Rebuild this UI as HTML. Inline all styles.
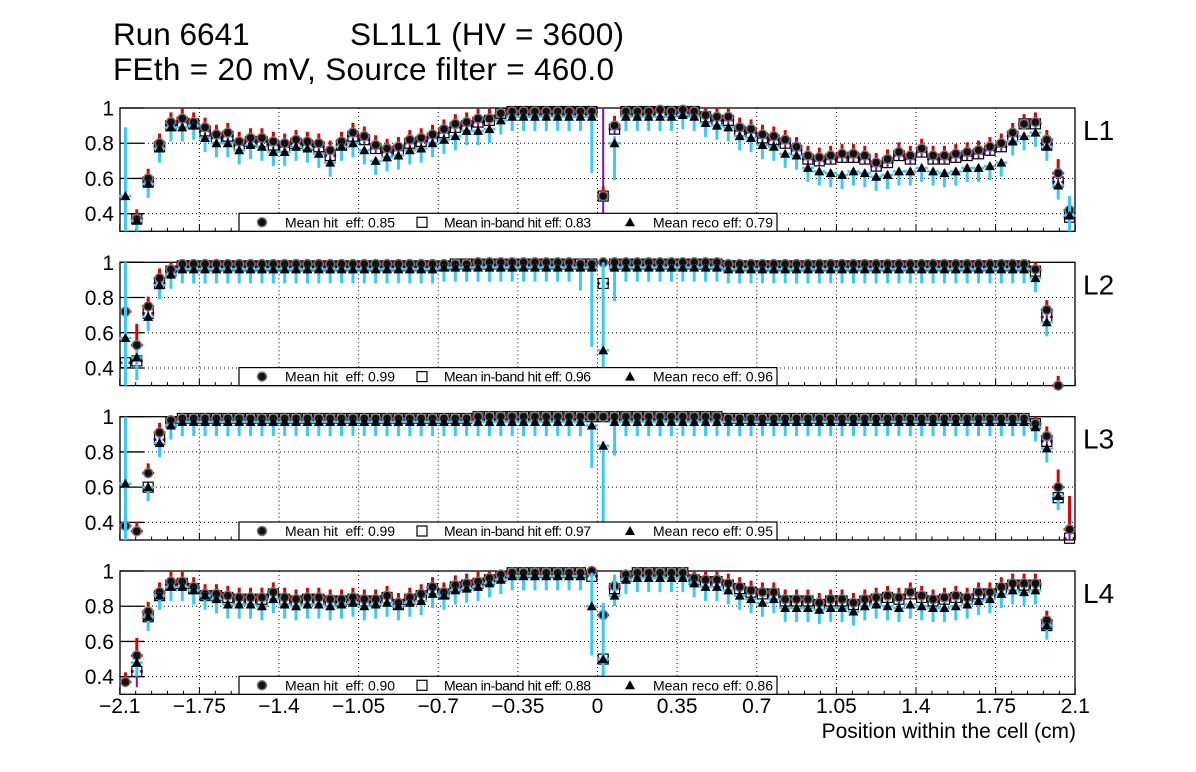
<!DOCTYPE html>
<html><head><meta charset="utf-8"><style>
html,body{margin:0;padding:0;background:#fff;}
svg{display:block;font-family:"Liberation Sans",Arial,sans-serif;}
text{white-space:pre;}
</style></head><body>
<svg id="chart" width="1196" height="772" viewBox="0 0 1196 772">
<text x="113" y="45" font-size="31.5">Run 6641</text>
<text x="350" y="45" font-size="31.5" textLength="274">SL1L1 (HV = 3600)</text>
<text x="113" y="80" font-size="31.5" textLength="501">FEth = 20 mV, Source filter = 460.0</text>
<g id="plots"></g>
<text x="1076" y="738" font-size="21" text-anchor="end">Position within the cell (cm)</text>
</svg>
<script>
const xTicks = [-2.1,-1.75,-1.4,-1.05,-0.7,-0.35,0,0.35,0.7,1.05,1.4,1.75,2.1];
const xTickLabels = ["\u22122.1","\u22121.75","\u22121.4","\u22121.05","\u22120.7","\u22120.35","0","0.35","0.7","1.05","1.4","1.75","2.1"];
const yTicks = [0.4,0.6,0.8,1];
const yTickLabels = ["0.4","0.6","0.8","1"];
const layerNames = ["L1","L2","L3","L4"];
const meanHit = ["0.85","0.99","0.99","0.90"];
const meanInband = ["0.83","0.96","0.97","0.88"];
const meanReco = ["0.79","0.96","0.95","0.86"];
const binStart = -2.075, binWidth = 0.05, nBins = 84;

const hitL1 = [null,0.37,0.60,0.80,0.92,0.94,0.92,0.89,0.85,0.86,0.81,0.83,0.83,0.81,0.80,0.82,0.81,0.80,0.76,0.81,0.86,0.84,0.79,0.77,0.78,0.82,0.83,0.85,0.88,0.91,0.92,0.94,0.94,0.97,0.98,0.98,0.98,0.98,0.98,0.98,0.98,0.98,0.50,0.90,0.98,0.98,0.98,0.99,0.98,0.99,0.98,0.96,0.95,0.95,0.89,0.88,0.85,0.84,0.82,0.78,0.73,0.72,0.73,0.74,0.74,0.73,0.69,0.71,0.75,0.73,0.77,0.73,0.73,0.74,0.75,0.76,0.78,0.80,0.86,0.91,0.92,0.82,0.63,0.42];
const inbL1 = [null,0.37,0.58,0.78,0.90,0.92,0.91,0.87,0.83,0.84,0.79,0.81,0.81,0.79,0.78,0.80,0.79,0.78,0.73,0.79,0.84,0.82,0.77,0.75,0.76,0.80,0.81,0.83,0.86,0.89,0.90,0.92,0.93,0.97,0.98,0.98,0.98,0.98,0.98,0.98,0.98,0.98,0.50,0.88,0.98,0.98,0.98,0.98,0.98,0.98,0.98,0.95,0.93,0.93,0.87,0.86,0.83,0.82,0.80,0.76,0.71,0.70,0.71,0.72,0.72,0.71,0.67,0.69,0.73,0.71,0.75,0.71,0.71,0.72,0.73,0.74,0.76,0.78,0.84,0.91,0.91,0.79,0.58,0.38];
const recoL1 = [0.50,0.36,0.57,0.77,0.89,0.89,0.90,0.83,0.80,0.80,0.76,0.79,0.78,0.75,0.75,0.78,0.77,0.74,0.69,0.78,0.80,0.76,0.70,0.72,0.73,0.76,0.77,0.80,0.82,0.84,0.87,0.87,0.88,0.93,0.95,0.95,0.95,0.95,0.95,0.95,0.95,0.95,null,0.80,0.95,0.95,0.95,0.95,0.95,0.96,0.95,0.915,0.90,0.89,0.84,0.83,0.79,0.78,0.74,0.73,0.66,0.64,0.63,0.62,0.64,0.63,0.61,0.62,0.64,0.64,0.66,0.64,0.63,0.64,0.66,0.66,0.67,0.69,0.81,0.84,0.86,0.78,0.56,0.39];

const hitL2 = [0.72,0.53,0.75,0.91,0.96,0.99,0.99,0.99,0.99,0.99,0.99,0.99,0.99,0.99,0.99,0.99,0.99,0.99,0.99,0.99,0.99,0.99,0.99,0.99,0.99,0.99,0.99,0.99,0.99,0.99,0.99,1.0,1.0,1.0,1.0,1.0,1.0,1.0,1.0,1.0,0.99,0.99,1.0,1.0,1.0,1.0,1.0,1.0,1.0,1.0,1.0,1.0,1.0,0.99,0.99,0.99,0.99,0.99,0.99,0.99,0.99,0.99,0.99,0.99,0.99,0.99,0.99,0.99,0.99,0.99,0.99,0.99,0.99,0.99,0.99,0.99,0.99,0.99,0.99,0.99,0.96,0.73,0.30,null];
const inbL2 = [0.43,0.44,0.71,0.88,0.95,0.98,0.98,0.98,0.98,0.98,0.98,0.98,0.98,0.98,0.98,0.98,0.98,0.98,0.98,0.98,0.98,0.98,0.98,0.98,0.98,0.98,0.98,0.98,0.98,0.99,0.99,0.99,0.99,0.99,0.99,0.99,0.99,0.99,0.99,0.99,0.99,0.99,0.88,0.99,0.99,0.99,0.99,0.99,0.99,0.99,0.99,0.99,0.99,0.98,0.98,0.98,0.98,0.98,0.98,0.98,0.98,0.98,0.98,0.98,0.98,0.98,0.98,0.98,0.98,0.98,0.98,0.98,0.98,0.98,0.98,0.98,0.98,0.98,0.98,0.98,0.95,0.69,null,null];
const recoL2 = [0.57,0.46,0.69,0.87,0.93,0.96,0.96,0.96,0.96,0.96,0.96,0.96,0.96,0.96,0.96,0.96,0.96,0.96,0.96,0.96,0.96,0.96,0.96,0.96,0.96,0.96,0.96,0.96,0.97,0.97,0.97,0.97,0.97,0.97,0.97,0.97,0.97,0.97,0.97,0.97,0.97,0.97,0.50,0.97,0.97,0.97,0.97,0.97,0.97,0.97,0.97,0.97,0.97,0.96,0.96,0.96,0.96,0.96,0.96,0.96,0.96,0.96,0.96,0.96,0.96,0.96,0.96,0.96,0.96,0.96,0.96,0.96,0.96,0.96,0.96,0.96,0.96,0.96,0.96,0.96,0.91,0.66,null,null];

const hitL3 = [0.38,0.35,0.68,0.91,0.98,0.99,0.99,0.99,0.99,0.99,0.99,0.99,0.99,0.99,0.99,0.99,0.99,0.99,0.99,0.99,0.99,0.99,0.99,0.99,0.99,0.99,0.99,0.99,0.99,0.99,0.99,1.0,1.0,1.0,1.0,1.0,1.0,1.0,1.0,1.0,1.0,1.0,1.0,1.0,1.0,1.0,1.0,1.0,1.0,1.0,1.0,1.0,1.0,0.99,0.99,0.99,0.99,0.99,0.99,0.99,0.99,0.99,0.99,0.99,0.99,0.99,0.99,0.99,0.99,0.99,0.99,0.99,0.99,0.99,0.99,0.99,0.99,0.99,0.99,0.99,0.96,0.89,0.60,0.36];
const inbL3 = [null,null,0.60,0.87,0.97,0.99,0.99,0.99,0.99,0.99,0.99,0.99,0.99,0.99,0.99,0.99,0.99,0.99,0.99,0.99,0.99,0.99,0.99,0.99,0.99,0.99,0.99,0.99,0.99,0.99,0.99,1.0,1.0,1.0,1.0,1.0,1.0,1.0,1.0,1.0,1.0,1.0,1.0,1.0,1.0,1.0,1.0,1.0,1.0,1.0,1.0,1.0,1.0,0.99,0.99,0.99,0.99,0.99,0.99,0.99,0.99,0.99,0.99,0.99,0.99,0.99,0.99,0.99,0.99,0.99,0.99,0.99,0.99,0.99,0.99,0.99,0.99,0.99,0.99,0.99,0.96,0.86,0.54,0.31];
const recoL3 = [0.62,null,0.60,0.85,0.95,0.97,0.97,0.97,0.97,0.97,0.97,0.97,0.97,0.97,0.97,0.97,0.97,0.97,0.97,0.97,0.97,0.97,0.97,0.97,0.97,0.97,0.97,0.97,0.97,0.97,0.97,0.97,0.97,0.97,0.97,0.97,0.97,0.97,0.97,0.97,0.97,0.95,0.835,0.97,0.97,0.97,0.97,0.97,0.97,0.97,0.97,0.97,0.97,0.97,0.97,0.97,0.97,0.97,0.97,0.97,0.97,0.97,0.97,0.97,0.97,0.97,0.97,0.97,0.97,0.97,0.97,0.97,0.97,0.97,0.97,0.97,0.97,0.97,0.97,0.97,0.94,0.82,0.55,null];

const hitL4 = [0.37,0.52,0.77,0.88,0.94,0.94,0.91,0.87,0.87,0.86,0.85,0.85,0.85,0.88,0.85,0.84,0.85,0.85,0.84,0.84,0.85,0.84,0.84,0.86,0.82,0.85,0.87,0.91,0.88,0.92,0.93,0.94,0.96,0.98,0.99,0.99,0.99,0.99,0.99,0.99,0.99,1.0,0.75,0.915,0.98,0.99,0.99,0.99,0.99,0.99,0.96,0.95,0.95,0.93,0.91,0.89,0.88,0.88,0.84,0.84,0.84,0.82,0.84,0.84,0.82,0.84,0.85,0.86,0.85,0.88,0.86,0.84,0.85,0.86,0.85,0.88,0.88,0.91,0.93,0.93,0.93,0.72,null,null];
const inbL4 = [null,0.43,0.74,0.86,0.92,0.93,0.90,0.86,0.86,0.85,0.84,0.84,0.84,0.87,0.84,0.83,0.84,0.84,0.83,0.83,0.84,0.83,0.83,0.85,0.81,0.84,0.86,0.90,0.87,0.91,0.92,0.93,0.95,0.97,0.99,0.99,0.99,0.99,0.99,0.99,0.99,0.97,0.50,0.90,0.97,0.99,0.99,0.99,0.99,0.99,0.95,0.94,0.94,0.92,0.90,0.88,0.87,0.87,0.83,0.83,0.83,0.81,0.83,0.83,0.81,0.83,0.84,0.85,0.84,0.87,0.85,0.83,0.84,0.85,0.84,0.87,0.87,0.90,0.92,0.92,0.92,0.69,null,null];
const recoL4 = [null,0.48,0.74,0.86,0.91,0.91,0.89,0.86,0.84,0.81,0.81,0.81,0.80,0.84,0.81,0.80,0.81,0.81,0.80,0.81,0.82,0.80,0.81,0.82,0.80,0.82,0.83,0.87,0.86,0.89,0.90,0.91,0.93,0.95,0.97,0.97,0.97,0.97,0.97,0.97,0.97,0.80,0.50,0.86,0.95,0.96,0.96,0.96,0.96,0.96,0.93,0.91,0.91,0.89,0.86,0.84,0.82,0.84,0.79,0.79,0.79,0.78,0.79,0.79,0.77,0.80,0.81,0.80,0.79,0.81,0.80,0.79,0.79,0.80,0.81,0.83,0.84,0.87,0.89,0.88,0.89,0.69,null,null];

const hitSeries = [hitL1,hitL2,hitL3,hitL4];
const inbSeries = [inbL1,inbL2,inbL3,inbL4];
const recoSeries = [recoL1,recoL2,recoL3,recoL4];
// special long error bars: [panel, bin, series, low, high]
const longErrors = [[0,0,'reco',0.30,0.89],[0,41,'reco',0.63,0.97],[0,42,'inb',0.30,1.0],[0,43,'reco',0.59,0.84],[0,83,'reco',0.30,0.50],[0,82,'hit',0.60,0.71],
 [1,0,'reco',0.30,1.0],[1,1,'reco',0.33,0.50],[1,1,'hit',0.50,0.65],[1,41,'reco',0.52,0.98],[1,42,'reco',0.30,1.0],[1,43,'reco',0.78,0.98],[1,40,'reco',0.84,0.98],
 [2,0,'reco',0.30,1.0],[2,41,'reco',0.71,0.97],[2,42,'reco',0.30,0.86],[2,43,'reco',0.78,0.98],[2,83,'inb',0.30,0.55],[2,83,'hit',0.33,0.55],[2,82,'hit',0.58,0.70],
 [3,0,'reco',0.30,0.72],[3,41,'reco',0.52,0.99],[3,42,'reco',0.30,0.82],[3,43,'reco',0.80,0.98],[3,1,'hit',0.48,0.62],[3,1,'inb',0.34,0.50]];

const NS = "http://www.w3.org/2000/svg";
const X0 = 120, X1 = 1075, YMIN = 0.3, YMAX = 1.0, PH = 123.3;
const panelTops = [108, 262.3, 416.7, 571];
const xScale = v => 597.5 + 227.5 * v;
const plots = document.getElementById('plots');
function mk(tag, attrs, parent) {
  const e = document.createElementNS(NS, tag);
  for (const k in attrs) e.setAttribute(k, attrs[k]);
  (parent || plots).appendChild(e);
  return e;
}
const colors = {hit:'#dd0000', inb:'#7711cc', reco:'#33ccff'};
const widths = {hit:3, inb:2, reco:3};

panelTops.forEach((top, p) => {
  const bottom = top + PH;
  const yScale = v => top + (YMAX - v) / (YMAX - YMIN) * PH;
  const g = mk('g', {});
  
  
  xTicks.slice(1, -1).forEach(t => {
    const l = mk('line', {x1: xScale(t), x2: xScale(t), y1: top, y2: bottom, stroke: '#000', 'stroke-width': 1, 'stroke-dasharray': '1,3'}, g);
    
    
  });
  yTicks.slice(0, -1).forEach(t => {
    const l = mk('line', {x1: X0, x2: X1, y1: yScale(t), y2: yScale(t), stroke: '#000', 'stroke-width': 1, 'stroke-dasharray': '1,3'}, g);
    
    
  });
  yTicks.forEach((t, i) => {
    mk('line', {x1: X0, x2: X0 + 24, y1: yScale(t), y2: yScale(t), stroke: '#000', 'stroke-width': 1.3}, g);
    const tx = mk('text', {x: 114, y: yScale(t) + 7.5, 'font-size': 21, 'text-anchor': 'end'}, g);
    tx.textContent = yTickLabels[i];
    
    
  });
  for (let i = 0; i <= 60; i++) {
    const v = -2.1 + i * 0.07;
    const major = i % 5 === 0;
    mk('line', {x1: xScale(v), x2: xScale(v), y1: bottom, y2: bottom - (major ? 7 : 3.5), stroke: '#000', 'stroke-width': 1}, g);
  }
  const fr = mk('rect', {x: X0, y: top, width: X1 - X0, height: PH, fill: 'none', stroke: '#000', 'stroke-width': 1.3}, g);
  
  
  const lt = mk('text', {x: 1083, y: top + 32, 'font-size': 28}, g);
  lt.textContent = layerNames[p];
  
  

  const series = [['inb', inbSeries[p]], ['hit', hitSeries[p]], ['reco', recoSeries[p]]];
  series.forEach(([name, arr]) => {
    const sg = mk('g', {}, g);
    
    
    arr.forEach((v, k) => {
      if (v === null || v === undefined) return;
      const cx = xScale(binStart + k * binWidth);
      let lo, hi;
      if (name === 'hit') { lo = v - 0.015; hi = Math.min(v + 0.055, 1.0); }
      else if (name === 'inb') { lo = v - 0.03; hi = Math.min(v + 0.03, 1.0); }
      else { lo = v - 0.08; hi = Math.min(v + 0.02, 1.0); }
      longErrors.forEach(e => { if (e[0] === p && e[1] === k && e[2] === name) { lo = e[3]; hi = e[4]; } });
      lo = Math.max(lo, YMIN);
      const c = colors[name];
      mk('line', {x1: cx, x2: cx, y1: yScale(lo), y2: yScale(hi), stroke: c, 'stroke-width': widths[name]}, sg);
      const cy = yScale(v);
      mk('line', {x1: cx - 6, x2: cx - 3, y1: cy, y2: cy, stroke: c, 'stroke-width': 2.5}, sg);
      mk('line', {x1: cx + 3, x2: cx + 6, y1: cy, y2: cy, stroke: c, 'stroke-width': 2.5}, sg);
      let m;
      if (name === 'hit') m = mk('circle', {cx: cx, cy: cy, r: 4.5, fill: '#111', stroke: '#777', 'stroke-width': 1.5}, sg);
      else if (name === 'inb') m = mk('rect', {x: cx - 5, y: cy - 5, width: 10, height: 10, fill: 'none', stroke: '#000', 'stroke-width': 1.2}, sg);
      else m = mk('path', {d: `M${cx - 5},${cy + 4} L${cx + 5},${cy + 4} L${cx},${cy - 5} Z`, fill: '#000'}, sg);
      
      
    });
  });

  const lg = mk('g', {}, g);
  
  
  mk('rect', {x: 239, y: bottom - 18, width: 538, height: 18, fill: '#fff', stroke: '#000', 'stroke-width': 1.2}, lg);
  const ly = bottom - 9;
  mk('circle', {cx: 262, cy: ly, r: 4.5, fill: '#111', stroke: '#777', 'stroke-width': 1.5}, lg);
  mk('rect', {x: 417, y: ly - 5, width: 10, height: 10, fill: 'none', stroke: '#000', 'stroke-width': 1.2}, lg);
  mk('path', {d: `M625,${ly + 4} L635,${ly + 4} L630,${ly - 5} Z`, fill: '#000'}, lg);
  const t1 = mk('text', {x: 285, y: bottom - 4, 'font-size': 14, textLength: 110}, lg);
  t1.textContent = 'Mean hit  eff: ' + meanHit[p];
  
  
  const t2 = mk('text', {x: 444, y: bottom - 4, 'font-size': 14, textLength: 147}, lg);
  t2.textContent = 'Mean in-band hit eff: ' + meanInband[p];
  
  
  const t3 = mk('text', {x: 653, y: bottom - 4, 'font-size': 14, textLength: 120}, lg);
  t3.textContent = 'Mean reco eff: ' + meanReco[p];
  
  
});

xTicks.forEach((t, i) => {
  const tx = mk('text', {x: xScale(t), y: 713, 'font-size': 21, 'text-anchor': 'middle'});
  tx.textContent = xTickLabels[i];
  
  
});
</script>
</body></html>
